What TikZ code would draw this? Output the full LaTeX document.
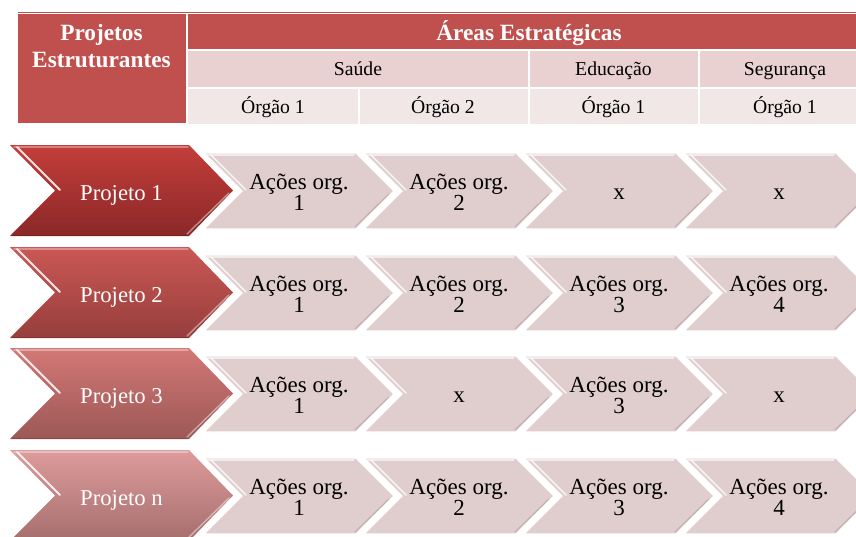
\documentclass[tikz,border=0pt]{standalone}
\usepackage{fontspec}
\setmainfont{Liberation Serif}

\definecolor{hdred}{HTML}{C0504D}
\definecolor{bandA}{HTML}{E8D1D0}
\definecolor{bandB}{HTML}{F2E7E7}
\definecolor{chevpink}{HTML}{E0CDCD}
\definecolor{chevshade}{HTML}{B8A3A3}
% project chevron gradients (top / bottom)
\definecolor{pAtop}{RGB}{196,62,58}
\definecolor{pAbot}{RGB}{138,40,40}
\definecolor{pBtop}{RGB}{202,88,84}
\definecolor{pBbot}{RGB}{150,62,60}
\definecolor{pCtop}{RGB}{210,120,118}
\definecolor{pCbot}{RGB}{156,88,86}
\definecolor{pDtop}{RGB}{222,155,155}
\definecolor{pDbot}{RGB}{166,110,110}

\tikzset{
  hdtext/.style={text=white, font=\bfseries\fontsize{23.3}{27}\selectfont, align=center, inner sep=0pt},
  subtext/.style={text=black, font=\fontsize{19.7}{22}\selectfont, inner sep=0pt, anchor=base},
  chevtext/.style={text=black, font=\fontsize{23}{21}\selectfont, align=center, inner sep=0pt, anchor=base},
  projtext/.style={text=white, font=\fontsize{22.7}{21}\selectfont, inner sep=0pt, anchor=base},
  glint/.style={white, line width=1.4pt, line cap=round},
}

% light chevron: name, left x, top y, baseline offset of last line, text
\newcommand\chevsmall[5]{%
  \fill[chevpink] (#2,#3) -- ++(152,0) -- ++(38,38) -- ++(-38,38) -- ++(-152,0) -- ++(38,-38) -- cycle;
  \draw[chevshade, line width=1pt, opacity=0.8] (#2+185,#3+41) -- (#2+151,#3+74);
  \draw[glint, opacity=0.9] (#2+7,#3+2) -- (#2+42,#3+37);
  \draw[glint, opacity=0.6] (#2+3,#3+2) -- (#2+150,#3+2);
  \draw[white, line width=1.2pt, line join=miter] (#2,#3) -- ++(152,0) -- ++(38,38) -- ++(-38,38) -- ++(-152,0) -- ++(38,-38) -- cycle;
  \node[chevtext] (#1) at (#2+95,#3+#4) {#5};
}

% project chevron: name, top y, top colour, bottom colour, text
\newcommand\chevbig[5]{%
  \shade[top color=#3, bottom color=#4] (10,#2) -- (189,#2) -- (233,#2+45.5) -- (189,#2+91) -- (10,#2+91) -- (55,#2+45.5) -- cycle;
  \draw[glint, opacity=0.35] (14,#2+2) -- (188,#2+2);
  \draw[glint, opacity=0.85, line width=1.8pt] (17,#2+2) -- (60,#2+45);
  \draw[glint, opacity=0.45] (229,#2+48) -- (187,#2+89);
  \draw[black, opacity=0.15, line width=1pt] (12,#2+90.5) -- (188,#2+90.5);
  \node[projtext] (#1) at (121.5,#2+55) {#5};
}

\begin{document}
\begin{tikzpicture}[x=1pt, y=-1pt]
\useasboundingbox (0,0) rectangle (856,536);
\clip (0,0) rectangle (856,536);

% ---- table header ----
\draw[hdred, line width=1pt] (18,12.5) -- (870,12.5);
\fill[hdred] (18,14) rectangle (185.5,123);
\fill[hdred] (187.5,14) rectangle (870,48.5);
\fill[bandA] (188,50.5) rectangle (527.5,87);
\fill[bandA] (529.5,50.5) rectangle (697.5,87);
\fill[bandA] (699.5,50.5) rectangle (870,87);
\fill[bandB] (188,88.5) rectangle (357.5,124);
\fill[bandB] (359.5,88.5) rectangle (527.5,124);
\fill[bandB] (529.5,88.5) rectangle (697.5,124);
\fill[bandB] (699.5,88.5) rectangle (870,124);

\node[hdtext, anchor=base] (proj) at (101.5,67) {Projetos\\Estruturantes};
\node[hdtext, anchor=base] (areas) at (529,40) {Áreas Estratégicas};
\node[subtext] (saude) at (358,75.5) {Saúde};
\node[subtext] (educ) at (613.5,75.5) {Educação};
\node[subtext] (seg) at (785,75.5) {Segurança};
\node[subtext] (o1) at (273,113) {Órgão 1};
\node[subtext] (o2) at (443,113) {Órgão 2};
\node[subtext] (o3) at (613.5,113) {Órgão 1};
\node[subtext] (o4) at (785,113) {Órgão 1};

% ---- row 1 ----
\chevsmall{a11}{204}{153}{57}{Ações org.\\1}
\chevsmall{a12}{364}{153}{57}{Ações org.\\2}
\chevsmall{a13}{524}{153}{46}{x}
\chevsmall{a14}{684}{153}{46}{x}
\chevbig{p1}{145}{pAtop}{pAbot}{Projeto 1}

% ---- row 2 ----
\chevsmall{a21}{204}{255}{57}{Ações org.\\1}
\chevsmall{a22}{364}{255}{57}{Ações org.\\2}
\chevsmall{a23}{524}{255}{57}{Ações org.\\3}
\chevsmall{a24}{684}{255}{57}{Ações org.\\4}
\chevbig{p2}{247}{pBtop}{pBbot}{Projeto 2}

% ---- row 3 ----
\chevsmall{a31}{204}{356}{57}{Ações org.\\1}
\chevsmall{a32}{364}{356}{46}{x}
\chevsmall{a33}{524}{356}{57}{Ações org.\\3}
\chevsmall{a34}{684}{356}{46}{x}
\chevbig{p3}{348}{pCtop}{pCbot}{Projeto 3}

% ---- row n ----
\chevsmall{a41}{204}{458}{57}{Ações org.\\1}
\chevsmall{a42}{364}{458}{57}{Ações org.\\2}
\chevsmall{a43}{524}{458}{57}{Ações org.\\3}
\chevsmall{a44}{684}{458}{57}{Ações org.\\4}
\chevbig{p4}{450}{pDtop}{pDbot}{Projeto n}

\end{tikzpicture}
\end{document}
